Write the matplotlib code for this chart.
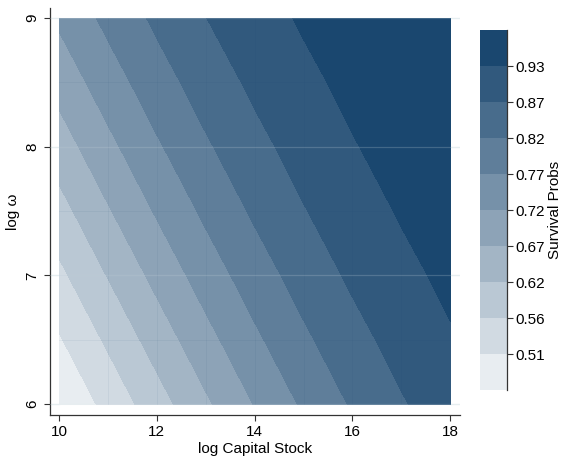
"""Contour of survival probabilities over log capital stock and log omega."""

import numpy as np
import matplotlib
matplotlib.use("Agg")
import matplotlib.pyplot as plt
from matplotlib.colors import ListedColormap, BoundaryNorm

plt.rcParams['font.family'] = ['Liberation Sans', 'DejaVu Sans']

# grid of the estimated surface
log_capital = [10, 11, 12, 13, 14, 15, 16, 17, 18]
log_omega = [6.0, 6.5, 7.0, 7.5, 8.0, 8.5, 9.0]
survival = [
    [0.4612, 0.5258, 0.5926, 0.6590, 0.7223, 0.7800, 0.8305, 0.8727, 0.9066],
    [0.5051, 0.5714, 0.6383, 0.7029, 0.7626, 0.8154, 0.8603, 0.8968, 0.9255],
    [0.5504, 0.6174, 0.6830, 0.7445, 0.7996, 0.8470, 0.8862, 0.9172, 0.9411],
    [0.5963, 0.6626, 0.7257, 0.7830, 0.8330, 0.8747, 0.9083, 0.9343, 0.9539],
    [0.6419, 0.7063, 0.7657, 0.8181, 0.8625, 0.8986, 0.9269, 0.9484, 0.9642],
    [0.6864, 0.7477, 0.8025, 0.8494, 0.8881, 0.9187, 0.9422, 0.9598, 0.9725],
    [0.7290, 0.7860, 0.8355, 0.8768, 0.9099, 0.9356, 0.9548, 0.9689, 0.9790],
]

# contour cut points and how the colour bar labels them
levels = [0.45, 0.51, 0.5625, 0.615, 0.6675, 0.72, 0.7725, 0.825, 0.8775, 0.93, 0.99]
level_labels = ['0.51', '0.56', '0.62', '0.67', '0.72', '0.77', '0.82', '0.87', '0.93']

# navy shaded by intensity, light to dark
navy = np.array([26, 71, 111]) / 255
shades = [tuple(1 - k / 10 * (1 - navy)) for k in range(1, 11)]
cmap = ListedColormap(shades)
norm = BoundaryNorm(levels, cmap.N)

fig = plt.figure(figsize=(5.62, 4.59), dpi=100)
ax = fig.add_axes([0.089, 0.0959, 0.7295, 0.8867])

X, Y = np.meshgrid(log_capital, log_omega)
cs = ax.contourf(X, Y, np.array(survival), levels=levels, cmap=cmap, norm=norm, zorder=1)

# faint seams between grid cells, as the original renderer leaves them
for xv in log_capital[1:-1]:
    ax.plot([xv, xv], [log_omega[0], log_omega[-1]], color=navy, alpha=0.06, lw=0.7, zorder=2)
for yv in log_omega[1:-1]:
    ax.plot([log_capital[0], log_capital[-1]], [yv, yv], color=navy, alpha=0.06, lw=0.7, zorder=2)

# horizontal grid lines at the y ticks
for yv in [6, 7, 8, 9]:
    ax.axhline(yv, color='#e6eef0', lw=0.9, alpha=0.2, zorder=3)
    ax.plot([9.816, 10], [yv, yv], color='#e6eef0', lw=0.9, zorder=0)
    ax.plot([18, 18.2], [yv, yv], color='#e6eef0', lw=0.9, zorder=0)

ax.set_xlim(9.816, 18.2)
ax.set_ylim(5.915, 9.078)
ax.set_xticks([10, 12, 14, 16, 18])
ax.set_yticks([6, 7, 8, 9])
ax.tick_params(direction='out', length=4, width=0.8, labelsize=11, color='#333333')
for lab in ax.get_yticklabels():
    lab.set_rotation(90)
    lab.set_va('center')
for side in ['top', 'right']:
    ax.spines[side].set_visible(False)
for side in ['left', 'bottom']:
    ax.spines[side].set_color('#333333')
    ax.spines[side].set_linewidth(0.9)
ax.set_xlabel('log Capital Stock', fontsize=11, labelpad=2)
ax.set_ylabel('log \u03c9', fontsize=11, labelpad=4)

# colour bar
cax = fig.add_axes([0.8541, 0.1503, 0.048, 0.7843])
cbar = fig.colorbar(cs, cax=cax, ticks=levels[1:-1])
cbar.ax.set_yticklabels(level_labels)
cbar.ax.minorticks_off()
cbar.outline.set_visible(False)
cax.plot([1, 1], [0, 1], transform=cax.transAxes, color='#333333', lw=0.9, clip_on=False)
cax.tick_params(direction='out', length=4, width=0.8, labelsize=11, color='#333333', pad=2)
cbar.set_label('Survival Probs', fontsize=11, labelpad=2)

fig.savefig('out.png', dpi=100)
